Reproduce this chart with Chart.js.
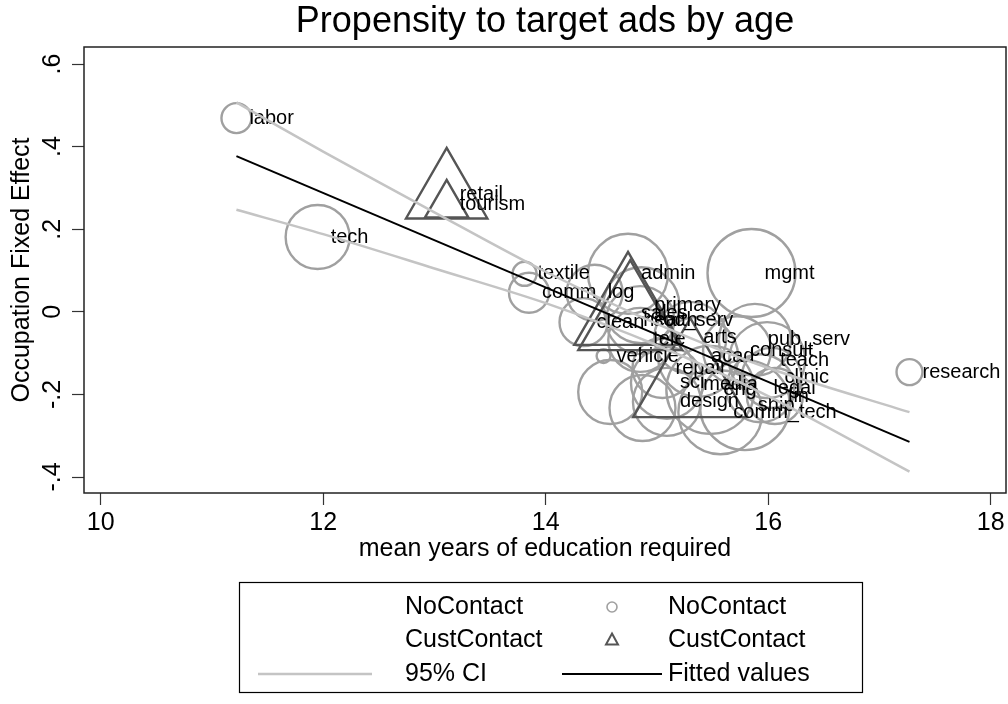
<!DOCTYPE html>
<html>
<head>
<meta charset="utf-8">
<script src="https://cdn.jsdelivr.net/npm/chart.js@4.4.1/dist/chart.umd.min.js"></script>
<style>
  html, body { margin: 0; padding: 0; background: #fff; }
  #wrap { width: 1008px; height: 704px; position: relative; }
</style>
</head>
<body>
<div id="wrap"><canvas id="chart" width="1008" height="704"></canvas></div>
<script>
// occupations without customer contact
const noContactOcc = ['labor', 'tech', 'textile', 'comm', 'log', 'admin', 'mgmt', 'research',
  'primary', 'soc_serv', 'vehicle', 'tele', 'acad', 'arts', 'pub_serv', 'consult', 'teach',
  'clinic', 'fin', 'legal', 'sci', 'design', 'comm_tech', 'eng', 'repair', 'clean', 'ship', '', ''];
const noContactEduc = [11.22, 11.95, 13.81, 13.85, 14.44, 14.74, 15.85, 17.27,
  14.86, 14.85, 14.52, 14.85, 15.37, 15.30, 15.88, 15.72, 15.99,
  16.03, 16.06, 15.93, 15.09, 15.09, 15.57, 15.48, 15.05, 14.34, 15.79, 14.58, 14.87];
const noContactFE = [0.469, 0.181, 0.092, 0.046, 0.046, 0.092, 0.094, -0.146,
  0.016, -0.020, -0.107, -0.068, -0.109, -0.063, -0.068, -0.093, -0.117,
  -0.160, -0.204, -0.185, -0.172, -0.218, -0.243, -0.189, -0.136, -0.025, -0.226, -0.194, -0.233];
const noContactWeight = [56, 256, 36, 100, 196, 400, 484, 42,
  361, 289, 12, 256, 400, 324, 324, 289, 361,
  225, 196, 289, 324, 289, 441, 484, 225, 144, 506, 256, 272];

// occupations with customer contact
const custContactOcc = ['retail', 'tourism', 'sales', 'health', 'media'];
const custContactEduc = [13.11, 13.11, 14.74, 14.76, 15.30];
const custContactFE = [0.283, 0.259, -0.005, -0.020, -0.175];
const custContactWeight = [552, 156, 961, 900, 1089];

// linear fit and 95% CI
const fitEduc = [11.22, 17.27];
const fitValues = [0.377, -0.315];
const ciEduc = [11.22, 12, 13, 14, 15, 16, 17.27];
const ciUpper = [0.507, 0.388, 0.241, 0.097, -0.029, -0.136, -0.243];
const ciLower = [0.247, 0.188, 0.105, 0.021, -0.081, -0.204, -0.387];

const xTicks = [10, 12, 14, 16, 18];
const yTicks = [-0.4, -0.2, 0, 0.2, 0.4, 0.6];
const yTickLabels = ['-.4', '-.2', '0', '.2', '.4', '.6'];

const chartTitle = 'Propensity to target ads by age';
const FONT = '"Liberation Sans", Arial, sans-serif';

function toPoints(xs, ys) {
    return xs.map((x, i) => ({ x: x, y: ys[i] }));
}
function toBubbles(xs, ys, w) {
    return xs.map((x, i) => ({ x: x, y: ys[i], r: 2 * Math.sqrt(w[i]) }));
}

// labels written to the right of each marker
const markerLabels = {
    id: 'markerLabels',
    afterDatasetDraw(chart, args) {
        const ds = chart.data.datasets[args.index];
        if (!ds.pointLabels) return;
        const ctx = chart.ctx;
        ctx.save();
        ctx.font = '20px ' + FONT;
        ctx.fillStyle = '#000';
        ctx.textAlign = 'left';
        ctx.textBaseline = 'middle';
        args.meta.data.forEach(function (pt, i) {
            ctx.fillText(ds.pointLabels[i], pt.x + 13, pt.y);
        });
        ctx.restore();
    }
};

// title over the plot region, frame, rotated y tick labels, legend box
const stataDecor = {
    id: 'stataDecor',
    afterDraw(chart) {
        const ctx = chart.ctx;
        const a = chart.chartArea;
        ctx.save();

        ctx.font = '36px ' + FONT;
        ctx.fillStyle = '#000';
        ctx.textAlign = 'center';
        ctx.textBaseline = 'middle';
        ctx.fillText(chartTitle, (a.left + a.right) / 2, 22);

        ctx.strokeStyle = '#222';
        ctx.lineWidth = 1.5;
        ctx.strokeRect(a.left, a.top, a.right - a.left, a.bottom - a.top);

        // y tick labels, vertical like Stata
        const ys = chart.scales.y;
        ctx.font = '25px ' + FONT;
        ys.ticks.forEach(function (t) {
            const py = ys.getPixelForValue(t.value);
            ctx.save();
            ctx.translate(53, py);
            ctx.rotate(-Math.PI / 2);
            ctx.fillText(yTickLabels[yTicks.indexOf(t.value)], 0, 0);
            ctx.restore();
        });

        // legend
        ctx.lineWidth = 1.2;
        ctx.strokeStyle = '#000';
        ctx.strokeRect(239.5, 582.5, 623, 110);
        const cols = [{ l: 258, r: 372, text: 405 }, { l: 562, r: 662, text: 668 }];
        const order = [0, 2, 1, 3, 4, 6];
        order.forEach(function (dsIndex, k) {
            const ds = chart.data.datasets[dsIndex];
            const c = cols[k % 2];
            const y = 607 + Math.floor(k / 2) * 33.5;
            const cx = (c.l + c.r) / 2;
            ctx.save();
            if (ds.legendSymbol === 'circle') {
                ctx.strokeStyle = ds.borderColor;
                ctx.lineWidth = 1.6;
                ctx.beginPath();
                ctx.arc(cx, y, 5, 0, Math.PI * 2);
                ctx.stroke();
            } else if (ds.legendSymbol === 'triangle') {
                ctx.strokeStyle = ds.borderColor;
                ctx.lineWidth = 2;
                ctx.beginPath();
                ctx.moveTo(cx, y - 7);
                ctx.lineTo(cx + 6, y + 4);
                ctx.lineTo(cx - 6, y + 4);
                ctx.closePath();
                ctx.stroke();
            } else if (ds.legendSymbol === 'line') {
                ctx.strokeStyle = ds.borderColor;
                ctx.lineWidth = ds.borderWidth;
                ctx.beginPath();
                ctx.moveTo(c.l, y);
                ctx.lineTo(c.r, y);
                ctx.stroke();
            }
            ctx.restore();
            ctx.font = '25px ' + FONT;
            ctx.fillStyle = '#000';
            ctx.textAlign = 'left';
            ctx.textBaseline = 'middle';
            ctx.fillText(ds.label, c.text, y);
        });
        ctx.restore();
    }
};

const ctx = document.getElementById('chart').getContext('2d');
new Chart(ctx, {
    type: 'bubble',
    data: {
        datasets: [
            {
                label: 'NoContact', type: 'scatter', legendSymbol: 'none', order: 3,
                data: toPoints(noContactEduc, noContactFE), pointLabels: noContactOcc,
                pointRadius: 0, borderColor: '#000'
            },
            {
                label: 'CustContact', type: 'scatter', legendSymbol: 'none', order: 2,
                data: toPoints(custContactEduc, custContactFE), pointLabels: custContactOcc,
                pointRadius: 0, borderColor: '#000'
            },
            {
                label: 'NoContact', legendSymbol: 'circle', order: 5,
                data: toBubbles(noContactEduc, noContactFE, noContactWeight),
                backgroundColor: 'rgba(0,0,0,0)', borderColor: '#a0a0a0', borderWidth: 2.4
            },
            {
                label: 'CustContact', legendSymbol: 'triangle', order: 4, pointStyle: 'triangle',
                data: toBubbles(custContactEduc, custContactFE, custContactWeight),
                backgroundColor: 'rgba(0,0,0,0)', borderColor: '#555555', borderWidth: 2.4
            },
            {
                label: '95% CI', type: 'scatter', legendSymbol: 'line', order: 1, showLine: true,
                data: toPoints(ciEduc, ciUpper), pointRadius: 0, tension: 0.3,
                borderColor: '#c4c4c4', borderWidth: 2.5
            },
            {
                label: '95% CI', type: 'scatter', legendSymbol: 'line', order: 1, showLine: true,
                data: toPoints(ciEduc, ciLower), pointRadius: 0, tension: 0.3,
                borderColor: '#c4c4c4', borderWidth: 2.5
            },
            {
                label: 'Fitted values', type: 'scatter', legendSymbol: 'line', order: 0, showLine: true,
                data: toPoints(fitEduc, fitValues), pointRadius: 0,
                borderColor: '#000000', borderWidth: 2
            }
        ]
    },
    options: {
        responsive: false,
        animation: false,
        events: [],
        layout: { autoPadding: false, padding: { left: 0, right: 2, top: 47, bottom: 140 } },
        plugins: {
            legend: { display: false },
            tooltip: { enabled: false },
            title: { display: false }
        },
        scales: {
            x: {
                type: 'linear',
                min: 9.85, max: 18.1375,
                afterBuildTicks: function (s) { s.ticks = xTicks.map(v => ({ value: v })); },
                afterFit: function (s) { s.height = 71; },
                grid: { display: true, drawOnChartArea: false, drawTicks: true, tickLength: 12, tickColor: '#333', tickWidth: 1.2 },
                border: { display: false },
                ticks: { color: '#000', padding: 3, font: { family: FONT, size: 25 }, maxRotation: 0 },
                title: {
                    display: true, text: 'mean years of education required', color: '#000',
                    font: { family: FONT, size: 25 }, padding: { top: 0, bottom: 0 }
                }
            },
            y: {
                type: 'linear',
                min: -0.4387, max: 0.6412,
                afterBuildTicks: function (s) { s.ticks = yTicks.map(v => ({ value: v })); },
                afterFit: function (s) { s.width = 84; },
                grid: { display: true, drawOnChartArea: false, drawTicks: true, tickLength: 12, tickColor: '#333', tickWidth: 1.2 },
                border: { display: false },
                ticks: { display: false },
                title: {
                    display: true, text: 'Occupation Fixed Effect', color: '#000',
                    font: { family: FONT, size: 25 }, padding: { top: 7, bottom: 0 }
                }
            }
        }
    },
    plugins: [markerLabels, stataDecor]
});
</script>
</body>
</html>
